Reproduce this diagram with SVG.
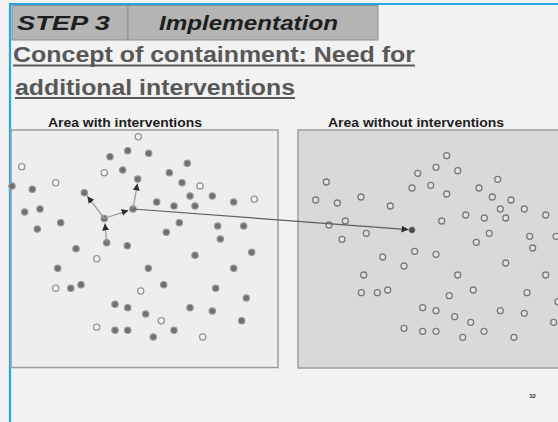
<svg xmlns="http://www.w3.org/2000/svg" width="558" height="422" viewBox="0 0 558 422">
<style>
.hdr{font-family:"Liberation Sans",Arial,sans-serif;font-weight:bold;font-style:italic;font-size:20.5px;fill:#1e1e1e}
.ttl{font-family:"Liberation Sans",Arial,sans-serif;font-weight:bold;font-size:22.5px;fill:#585858}
.lbl{font-family:"Liberation Sans",Arial,sans-serif;font-weight:bold;font-size:12.5px;fill:#1e1e1e}
.f{fill:#6f6f6f;stroke:#9a9a9a;stroke-width:1.2}
.o{fill:#fafafa;stroke:#959595;stroke-width:1.3}
.r{fill:#e2e2e2;stroke:#7a7a7a;stroke-width:1.3}
.thin{stroke:#9c9c9c;stroke-width:1.3;fill:none}
.long{stroke:#5e5e5e;stroke-width:1.2;fill:none}
</style>
<defs>
<marker id="ah" markerUnits="userSpaceOnUse" markerWidth="8" markerHeight="8" refX="7" refY="3.5" orient="auto">
<path d="M0,0 L7,3.5 L0,7 z" fill="#2e2e2e"/>
</marker>
</defs>
<rect width="558" height="422" fill="#f2f2f2"/>
<g id="frame">
<line x1="10" y1="4" x2="558" y2="4" stroke="#22a8e6" stroke-width="2"/>
<line x1="10" y1="3" x2="10" y2="422" stroke="#22a8e6" stroke-width="2.2"/>
</g>
<g id="header">
<rect x="12" y="5.5" width="116" height="34.5" fill="#b4b4b4" stroke="#8e8e8e" stroke-width="1"/>
<rect x="128" y="5.5" width="250" height="34.5" fill="#b4b4b4" stroke="#8e8e8e" stroke-width="1"/>
<text class="hdr" x="17" y="29.5" textLength="93" lengthAdjust="spacingAndGlyphs">STEP 3</text>
<text class="hdr" x="159" y="29.5" textLength="179" lengthAdjust="spacingAndGlyphs">Implementation</text>
</g>
<g id="title">
<text class="ttl" x="13" y="62" textLength="402" lengthAdjust="spacingAndGlyphs">Concept of containment: Need for</text>
<line x1="13" y1="65.5" x2="415" y2="65.5" stroke="#585858" stroke-width="2"/>
<text class="ttl" x="15" y="94.5" textLength="280" lengthAdjust="spacingAndGlyphs">additional interventions</text>
<line x1="15" y1="98" x2="295" y2="98" stroke="#585858" stroke-width="2"/>
</g>
<g id="left-panel">
<text class="lbl" x="48" y="127" textLength="154" lengthAdjust="spacingAndGlyphs">Area with interventions</text>
<rect x="11" y="130" width="267" height="237.5" fill="#eeeeee" stroke="#9c9c9c" stroke-width="1.5"/>
<g id="left-dots">
<circle class="f" cx="127.7" cy="150.7" r="3.2"/><circle class="f" cx="110" cy="156.7" r="3.2"/><circle class="f" cx="148.7" cy="153.3" r="3.2"/><circle class="f" cx="187.3" cy="163.3" r="3.2"/><circle class="f" cx="122.7" cy="170" r="3.2"/><circle class="f" cx="169.3" cy="172.7" r="3.2"/><circle class="f" cx="12" cy="186" r="3.2"/><circle class="f" cx="32.3" cy="189.3" r="3.2"/><circle class="f" cx="137.7" cy="179" r="3.2"/><circle class="f" cx="182" cy="182.7" r="3.2"/><circle class="f" cx="84.3" cy="192.7" r="3.2"/><circle class="f" cx="190" cy="196" r="3.2"/><circle class="f" cx="212.3" cy="196" r="3.2"/><circle class="f" cx="156.7" cy="202" r="3.2"/><circle class="f" cx="233.7" cy="202" r="3.2"/><circle class="f" cx="174" cy="206" r="3.2"/><circle class="f" cx="195" cy="206" r="3.2"/><circle class="f" cx="24.7" cy="212" r="3.2"/><circle class="f" cx="40" cy="209" r="3.2"/><circle class="f" cx="60.7" cy="222.7" r="3.2"/><circle class="f" cx="179.3" cy="222.7" r="3.2"/><circle class="f" cx="217.7" cy="226" r="3.2"/><circle class="f" cx="243.7" cy="226" r="3.2"/><circle class="f" cx="37.3" cy="229" r="3.2"/><circle class="f" cx="166.3" cy="232.3" r="3.2"/><circle class="f" cx="220.3" cy="239" r="3.2"/><circle class="f" cx="106.7" cy="242.7" r="3.2"/><circle class="f" cx="127.3" cy="245.7" r="3.2"/><circle class="f" cx="76" cy="248.7" r="3.2"/><circle class="f" cx="251.7" cy="252.3" r="3.2"/><circle class="f" cx="195" cy="255.3" r="3.2"/><circle class="f" cx="57.7" cy="268.3" r="3.2"/><circle class="f" cx="148.3" cy="268.3" r="3.2"/><circle class="f" cx="233.7" cy="268.3" r="3.2"/><circle class="f" cx="163.7" cy="284.7" r="3.2"/><circle class="f" cx="81" cy="284.7" r="3.2"/><circle class="f" cx="70.7" cy="288.3" r="3.2"/><circle class="f" cx="215.7" cy="288.3" r="3.2"/><circle class="f" cx="246.3" cy="298" r="3.2"/><circle class="f" cx="115" cy="304.3" r="3.2"/><circle class="f" cx="127.7" cy="307.7" r="3.2"/><circle class="f" cx="190" cy="307.7" r="3.2"/><circle class="f" cx="212.3" cy="311" r="3.2"/><circle class="f" cx="145.7" cy="314" r="3.2"/><circle class="f" cx="241.7" cy="320.7" r="3.2"/><circle class="f" cx="115" cy="330.3" r="3.2"/><circle class="f" cx="127.7" cy="330.3" r="3.2"/><circle class="f" cx="174" cy="330.3" r="3.2"/><circle class="f" cx="153.3" cy="337" r="3.2"/>
<circle class="o" cx="138.3" cy="136.7" r="3.1"/><circle class="o" cx="21.7" cy="166.7" r="3.1"/><circle class="o" cx="104.3" cy="172.7" r="3.1"/><circle class="o" cx="55.7" cy="182.7" r="3.1"/><circle class="o" cx="200" cy="186" r="3.1"/><circle class="o" cx="254.3" cy="199.3" r="3.1"/><circle class="o" cx="96.7" cy="258.7" r="3.1"/><circle class="o" cx="55.7" cy="288.3" r="3.1"/><circle class="o" cx="140.7" cy="291" r="3.1"/><circle class="o" cx="161.3" cy="320.7" r="3.1"/><circle class="o" cx="96.7" cy="327.3" r="3.1"/><circle class="o" cx="202.7" cy="337" r="3.1"/>
</g>
</g>
<g id="right-panel">
<text class="lbl" x="328" y="127" textLength="176" lengthAdjust="spacingAndGlyphs">Area without interventions</text>
<rect x="298" y="130" width="270" height="238" fill="#d9d9d9" stroke="#9c9c9c" stroke-width="1.5"/>
<g id="right-dots">
<circle class="r" cx="446.7" cy="155.7" r="3"/><circle class="r" cx="417.7" cy="173.3" r="3"/><circle class="r" cx="436" cy="167.3" r="3"/><circle class="r" cx="457.7" cy="170.7" r="3"/><circle class="r" cx="497.7" cy="179.3" r="3"/><circle class="r" cx="326.3" cy="182" r="3"/><circle class="r" cx="412" cy="188" r="3"/><circle class="r" cx="430.7" cy="185.3" r="3"/><circle class="r" cx="446.7" cy="194" r="3"/><circle class="r" cx="479" cy="188" r="3"/><circle class="r" cx="492.3" cy="197" r="3"/><circle class="r" cx="511" cy="200" r="3"/><circle class="r" cx="315.7" cy="200" r="3"/><circle class="r" cx="337.3" cy="203" r="3"/><circle class="r" cx="361" cy="197" r="3"/><circle class="r" cx="390.3" cy="206" r="3"/><circle class="r" cx="524.3" cy="209" r="3"/><circle class="r" cx="500.3" cy="209" r="3"/><circle class="r" cx="465.7" cy="215" r="3"/><circle class="r" cx="484.3" cy="218" r="3"/><circle class="r" cx="505.7" cy="218" r="3"/><circle class="r" cx="545.7" cy="215" r="3"/><circle class="r" cx="441.7" cy="221" r="3"/><circle class="r" cx="345.3" cy="221" r="3"/><circle class="r" cx="329" cy="225" r="3"/><circle class="r" cx="366.3" cy="233.3" r="3"/><circle class="r" cx="489.3" cy="233.3" r="3"/><circle class="r" cx="529.7" cy="236.3" r="3"/><circle class="r" cx="556" cy="236.3" r="3"/><circle class="r" cx="342" cy="239.3" r="3"/><circle class="r" cx="476.3" cy="242.3" r="3"/><circle class="r" cx="532.7" cy="248" r="3"/><circle class="r" cx="414.7" cy="251.3" r="3"/><circle class="r" cx="436" cy="254.3" r="3"/><circle class="r" cx="382.7" cy="257" r="3"/><circle class="r" cx="505.7" cy="263" r="3"/><circle class="r" cx="404" cy="266" r="3"/><circle class="r" cx="457.7" cy="275" r="3"/><circle class="r" cx="545.7" cy="275" r="3"/><circle class="r" cx="363.7" cy="275" r="3"/><circle class="r" cx="473.3" cy="290" r="3"/><circle class="r" cx="361.3" cy="292.7" r="3"/><circle class="r" cx="377.3" cy="292.7" r="3"/><circle class="r" cx="387.7" cy="290" r="3"/><circle class="r" cx="449.3" cy="295.7" r="3"/><circle class="r" cx="527" cy="292.7" r="3"/><circle class="r" cx="558" cy="301.7" r="3"/><circle class="r" cx="422.7" cy="307.7" r="3"/><circle class="r" cx="436" cy="310.7" r="3"/><circle class="r" cx="500.3" cy="310.7" r="3"/><circle class="r" cx="524.3" cy="313.3" r="3"/><circle class="r" cx="454.7" cy="316.7" r="3"/><circle class="r" cx="470.7" cy="322.3" r="3"/><circle class="r" cx="553.7" cy="322.3" r="3"/><circle class="r" cx="404" cy="328.3" r="3"/><circle class="r" cx="422.7" cy="331.3" r="3"/><circle class="r" cx="436" cy="331.3" r="3"/><circle class="r" cx="484" cy="331.3" r="3"/><circle class="r" cx="462.7" cy="337.3" r="3"/><circle class="r" cx="514" cy="337.3" r="3"/>
</g>
</g>
<g id="hub-nodes">
<circle id="hub1" class="f" cx="104.3" cy="218.5" r="3.2"/>
<circle id="hub2" class="f" cx="133" cy="209" r="3.2"/>
<circle id="target" cx="412" cy="230" r="2.9" fill="#4a4a4a" stroke="#6a6a6a" stroke-width="1"/>
</g>
<g id="connectors">
<line class="thin" x1="104.3" y1="218.5" x2="87.3" y2="196.2" marker-end="url(#ah)"/>
<line class="thin" x1="104.3" y1="218.5" x2="128.5" y2="210.3" marker-end="url(#ah)"/>
<line class="thin" x1="106.8" y1="242.7" x2="105" y2="223.5" marker-end="url(#ah)"/>
<line class="thin" x1="133" y1="209" x2="137.4" y2="183.5" marker-end="url(#ah)"/>
<line class="long" x1="133" y1="209" x2="408.5" y2="229.6" marker-end="url(#ah)"/>
</g>
<text x="532.5" y="398" text-anchor="middle" font-family="Liberation Sans, Arial, sans-serif" font-weight="bold" font-size="6" fill="#3a3a3a">32</text>
</svg>
